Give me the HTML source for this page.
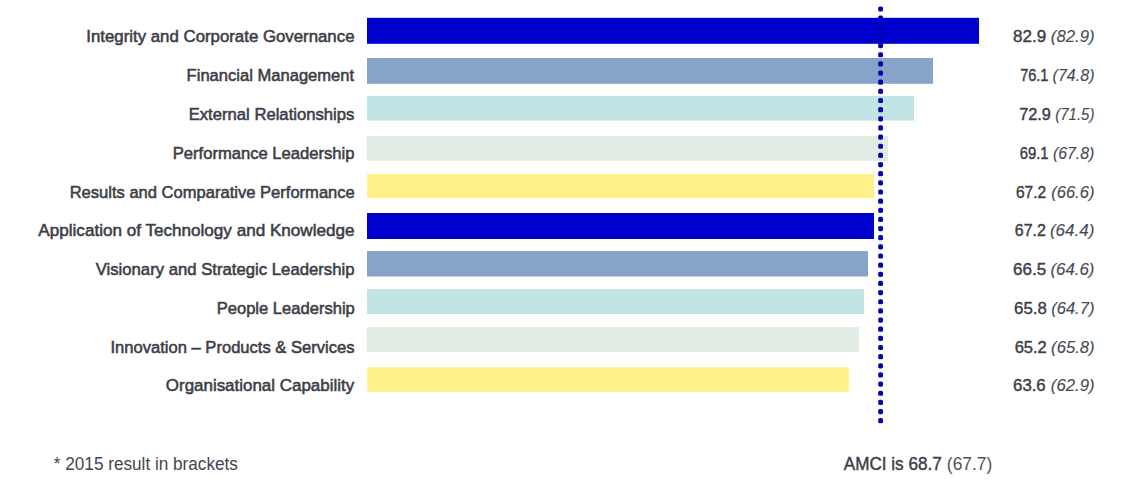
<!DOCTYPE html>
<html><head><meta charset="utf-8"><style>
html,body{margin:0;padding:0;background:#fff;width:1146px;height:498px;overflow:hidden}
svg{position:absolute;left:0;top:0}
text{font-family:"Liberation Sans",sans-serif}
</style></head><body>
<svg width="1146" height="498" viewBox="0 0 1146 498">
<rect x="367" y="17.80" width="612.00" height="26.00" fill="#0000cc"/>
<rect x="367" y="58.00" width="566.00" height="25.80" fill="#87a3c8"/>
<rect x="367" y="96.00" width="547.00" height="24.60" fill="#c1e4e4"/>
<rect x="367" y="136.00" width="521.00" height="24.80" fill="#e2ebe4"/>
<rect x="367" y="174.00" width="507.00" height="24.10" fill="#fff28a"/>
<rect x="367" y="213.00" width="507.00" height="26.00" fill="#0000cc"/>
<rect x="367" y="251.10" width="501.00" height="25.40" fill="#87a3c8"/>
<rect x="367" y="289.10" width="497.00" height="24.90" fill="#c1e4e4"/>
<rect x="367" y="327.10" width="492.00" height="24.70" fill="#e2ebe4"/>
<rect x="367" y="367.20" width="482.00" height="24.60" fill="#fff28a"/>
<rect x="878.2" y="6.40" width="4.8" height="5.2" rx="1.6" fill="#0000b4"/>
<rect x="878.2" y="15.55" width="4.8" height="5.2" rx="1.6" fill="#0000b4"/>
<rect x="878.2" y="24.70" width="4.8" height="5.2" rx="1.6" fill="#0000b4"/>
<rect x="878.2" y="33.85" width="4.8" height="5.2" rx="1.6" fill="#0000b4"/>
<rect x="878.2" y="43.00" width="4.8" height="5.2" rx="1.6" fill="#0000b4"/>
<rect x="878.2" y="52.14" width="4.8" height="5.2" rx="1.6" fill="#0000b4"/>
<rect x="878.2" y="61.29" width="4.8" height="5.2" rx="1.6" fill="#0000b4"/>
<rect x="878.2" y="70.44" width="4.8" height="5.2" rx="1.6" fill="#0000b4"/>
<rect x="878.2" y="79.59" width="4.8" height="5.2" rx="1.6" fill="#0000b4"/>
<rect x="878.2" y="88.74" width="4.8" height="5.2" rx="1.6" fill="#0000b4"/>
<rect x="878.2" y="97.89" width="4.8" height="5.2" rx="1.6" fill="#0000b4"/>
<rect x="878.2" y="107.04" width="4.8" height="5.2" rx="1.6" fill="#0000b4"/>
<rect x="878.2" y="116.19" width="4.8" height="5.2" rx="1.6" fill="#0000b4"/>
<rect x="878.2" y="125.34" width="4.8" height="5.2" rx="1.6" fill="#0000b4"/>
<rect x="878.2" y="134.49" width="4.8" height="5.2" rx="1.6" fill="#0000b4"/>
<rect x="878.2" y="143.63" width="4.8" height="5.2" rx="1.6" fill="#0000b4"/>
<rect x="878.2" y="152.78" width="4.8" height="5.2" rx="1.6" fill="#0000b4"/>
<rect x="878.2" y="161.93" width="4.8" height="5.2" rx="1.6" fill="#0000b4"/>
<rect x="878.2" y="171.08" width="4.8" height="5.2" rx="1.6" fill="#0000b4"/>
<rect x="878.2" y="180.23" width="4.8" height="5.2" rx="1.6" fill="#0000b4"/>
<rect x="878.2" y="189.38" width="4.8" height="5.2" rx="1.6" fill="#0000b4"/>
<rect x="878.2" y="198.53" width="4.8" height="5.2" rx="1.6" fill="#0000b4"/>
<rect x="878.2" y="207.68" width="4.8" height="5.2" rx="1.6" fill="#0000b4"/>
<rect x="878.2" y="216.83" width="4.8" height="5.2" rx="1.6" fill="#0000b4"/>
<rect x="878.2" y="225.98" width="4.8" height="5.2" rx="1.6" fill="#0000b4"/>
<rect x="878.2" y="235.12" width="4.8" height="5.2" rx="1.6" fill="#0000b4"/>
<rect x="878.2" y="244.27" width="4.8" height="5.2" rx="1.6" fill="#0000b4"/>
<rect x="878.2" y="253.42" width="4.8" height="5.2" rx="1.6" fill="#0000b4"/>
<rect x="878.2" y="262.57" width="4.8" height="5.2" rx="1.6" fill="#0000b4"/>
<rect x="878.2" y="271.72" width="4.8" height="5.2" rx="1.6" fill="#0000b4"/>
<rect x="878.2" y="280.87" width="4.8" height="5.2" rx="1.6" fill="#0000b4"/>
<rect x="878.2" y="290.02" width="4.8" height="5.2" rx="1.6" fill="#0000b4"/>
<rect x="878.2" y="299.17" width="4.8" height="5.2" rx="1.6" fill="#0000b4"/>
<rect x="878.2" y="308.32" width="4.8" height="5.2" rx="1.6" fill="#0000b4"/>
<rect x="878.2" y="317.47" width="4.8" height="5.2" rx="1.6" fill="#0000b4"/>
<rect x="878.2" y="326.61" width="4.8" height="5.2" rx="1.6" fill="#0000b4"/>
<rect x="878.2" y="335.76" width="4.8" height="5.2" rx="1.6" fill="#0000b4"/>
<rect x="878.2" y="344.91" width="4.8" height="5.2" rx="1.6" fill="#0000b4"/>
<rect x="878.2" y="354.06" width="4.8" height="5.2" rx="1.6" fill="#0000b4"/>
<rect x="878.2" y="363.21" width="4.8" height="5.2" rx="1.6" fill="#0000b4"/>
<rect x="878.2" y="372.36" width="4.8" height="5.2" rx="1.6" fill="#0000b4"/>
<rect x="878.2" y="381.51" width="4.8" height="5.2" rx="1.6" fill="#0000b4"/>
<rect x="878.2" y="390.66" width="4.8" height="5.2" rx="1.6" fill="#0000b4"/>
<rect x="878.2" y="399.81" width="4.8" height="5.2" rx="1.6" fill="#0000b4"/>
<rect x="878.2" y="408.96" width="4.8" height="5.2" rx="1.6" fill="#0000b4"/>
<rect x="878.2" y="418.10" width="4.8" height="5.2" rx="1.6" fill="#0000b4"/>
<text x="86.32" y="42.40" font-size="17" font-weight="400" stroke="#3c3d46" stroke-width="0.55" fill="#3c3d46" textLength="268.17" lengthAdjust="spacingAndGlyphs">Integrity and Corporate Governance</text>
<text x="1013.02" y="42.40" font-size="16.5" font-weight="400" stroke="#3c3d46" stroke-width="0.42" fill="#3c3d46" textLength="33.07" lengthAdjust="spacingAndGlyphs">82.9</text>
<text x="1050.86" y="42.40" font-size="16.5" font-weight="400" font-style="italic" stroke="#474a55" stroke-width="0.12" fill="#474a55" textLength="43.68" lengthAdjust="spacingAndGlyphs">(82.9)</text>
<text x="186.62" y="81.18" font-size="17" font-weight="400" stroke="#3c3d46" stroke-width="0.55" fill="#3c3d46" textLength="167.53" lengthAdjust="spacingAndGlyphs">Financial Management</text>
<text x="1020.14" y="81.18" font-size="16.5" font-weight="400" stroke="#3c3d46" stroke-width="0.42" fill="#3c3d46" textLength="28.35" lengthAdjust="spacingAndGlyphs">76.1</text>
<text x="1052.62" y="81.18" font-size="16.5" font-weight="400" font-style="italic" stroke="#474a55" stroke-width="0.12" fill="#474a55" textLength="41.86" lengthAdjust="spacingAndGlyphs">(74.8)</text>
<text x="188.70" y="119.96" font-size="17" font-weight="400" stroke="#3c3d46" stroke-width="0.55" fill="#3c3d46" textLength="165.67" lengthAdjust="spacingAndGlyphs">External Relationships</text>
<text x="1019.17" y="119.96" font-size="16.5" font-weight="400" stroke="#3c3d46" stroke-width="0.42" fill="#3c3d46" textLength="31.76" lengthAdjust="spacingAndGlyphs">72.9</text>
<text x="1055.34" y="119.96" font-size="16.5" font-weight="400" font-style="italic" stroke="#474a55" stroke-width="0.12" fill="#474a55" textLength="39.05" lengthAdjust="spacingAndGlyphs">(71.5)</text>
<text x="172.72" y="158.74" font-size="17" font-weight="400" stroke="#3c3d46" stroke-width="0.55" fill="#3c3d46" textLength="181.75" lengthAdjust="spacingAndGlyphs">Performance Leadership</text>
<text x="1019.80" y="158.74" font-size="16.5" font-weight="400" stroke="#3c3d46" stroke-width="0.42" fill="#3c3d46" textLength="28.77" lengthAdjust="spacingAndGlyphs">69.1</text>
<text x="1052.89" y="158.74" font-size="16.5" font-weight="400" font-style="italic" stroke="#474a55" stroke-width="0.12" fill="#474a55" textLength="41.53" lengthAdjust="spacingAndGlyphs">(67.8)</text>
<text x="69.65" y="197.52" font-size="17" font-weight="400" stroke="#3c3d46" stroke-width="0.55" fill="#3c3d46" textLength="285.13" lengthAdjust="spacingAndGlyphs">Results and Comparative Performance</text>
<text x="1015.96" y="197.52" font-size="16.5" font-weight="400" stroke="#3c3d46" stroke-width="0.42" fill="#3c3d46" textLength="30.26" lengthAdjust="spacingAndGlyphs">67.2</text>
<text x="1051.15" y="197.52" font-size="16.5" font-weight="400" font-style="italic" stroke="#474a55" stroke-width="0.12" fill="#474a55" textLength="43.33" lengthAdjust="spacingAndGlyphs">(66.6)</text>
<text x="38.34" y="236.30" font-size="17" font-weight="400" stroke="#3c3d46" stroke-width="0.55" fill="#3c3d46" textLength="316.23" lengthAdjust="spacingAndGlyphs">Application of Technology and Knowledge</text>
<text x="1014.84" y="236.30" font-size="16.5" font-weight="400" stroke="#3c3d46" stroke-width="0.42" fill="#3c3d46" textLength="31.07" lengthAdjust="spacingAndGlyphs">67.2</text>
<text x="1049.93" y="236.30" font-size="16.5" font-weight="400" font-style="italic" stroke="#474a55" stroke-width="0.12" fill="#474a55" textLength="44.58" lengthAdjust="spacingAndGlyphs">(64.4)</text>
<text x="95.66" y="275.08" font-size="17" font-weight="400" stroke="#3c3d46" stroke-width="0.55" fill="#3c3d46" textLength="258.82" lengthAdjust="spacingAndGlyphs">Visionary and Strategic Leadership</text>
<text x="1013.12" y="275.08" font-size="16.5" font-weight="400" stroke="#3c3d46" stroke-width="0.42" fill="#3c3d46" textLength="33.05" lengthAdjust="spacingAndGlyphs">66.5</text>
<text x="1050.40" y="275.08" font-size="16.5" font-weight="400" font-style="italic" stroke="#474a55" stroke-width="0.12" fill="#474a55" textLength="44.10" lengthAdjust="spacingAndGlyphs">(64.6)</text>
<text x="216.68" y="313.86" font-size="17" font-weight="400" stroke="#3c3d46" stroke-width="0.55" fill="#3c3d46" textLength="138.17" lengthAdjust="spacingAndGlyphs">People Leadership</text>
<text x="1014.09" y="313.86" font-size="16.5" font-weight="400" stroke="#3c3d46" stroke-width="0.42" fill="#3c3d46" textLength="32.81" lengthAdjust="spacingAndGlyphs">65.8</text>
<text x="1051.15" y="313.86" font-size="16.5" font-weight="400" font-style="italic" stroke="#474a55" stroke-width="0.12" fill="#474a55" textLength="43.33" lengthAdjust="spacingAndGlyphs">(64.7)</text>
<text x="110.51" y="352.64" font-size="17" font-weight="400" stroke="#3c3d46" stroke-width="0.55" fill="#3c3d46" textLength="244.02" lengthAdjust="spacingAndGlyphs">Innovation – Products &amp; Services</text>
<text x="1014.64" y="352.64" font-size="16.5" font-weight="400" stroke="#3c3d46" stroke-width="0.42" fill="#3c3d46" textLength="32.21" lengthAdjust="spacingAndGlyphs">65.2</text>
<text x="1051.11" y="352.64" font-size="16.5" font-weight="400" font-style="italic" stroke="#474a55" stroke-width="0.12" fill="#474a55" textLength="43.42" lengthAdjust="spacingAndGlyphs">(65.8)</text>
<text x="165.82" y="391.42" font-size="17" font-weight="400" stroke="#3c3d46" stroke-width="0.55" fill="#3c3d46" textLength="188.29" lengthAdjust="spacingAndGlyphs">Organisational Capability</text>
<text x="1013.10" y="391.42" font-size="16.5" font-weight="400" stroke="#3c3d46" stroke-width="0.42" fill="#3c3d46" textLength="32.58" lengthAdjust="spacingAndGlyphs">63.6</text>
<text x="1050.86" y="391.42" font-size="16.5" font-weight="400" font-style="italic" stroke="#474a55" stroke-width="0.12" fill="#474a55" textLength="43.68" lengthAdjust="spacingAndGlyphs">(62.9)</text>
<text x="53.84" y="469.80" font-size="17.5" font-weight="400" fill="#45464d" textLength="184.05" lengthAdjust="spacingAndGlyphs">* 2015 result in brackets</text>
<text x="843.72" y="469.90" font-size="17.5" font-weight="400" stroke="#3c3d46" stroke-width="0.4" fill="#3c3d46" textLength="98.07" lengthAdjust="spacingAndGlyphs">AMCI is 68.7</text>
<text x="946.87" y="469.90" font-size="17.5" font-weight="400" fill="#50535e" textLength="45.35" lengthAdjust="spacingAndGlyphs">(67.7)</text>
</svg></body></html>
